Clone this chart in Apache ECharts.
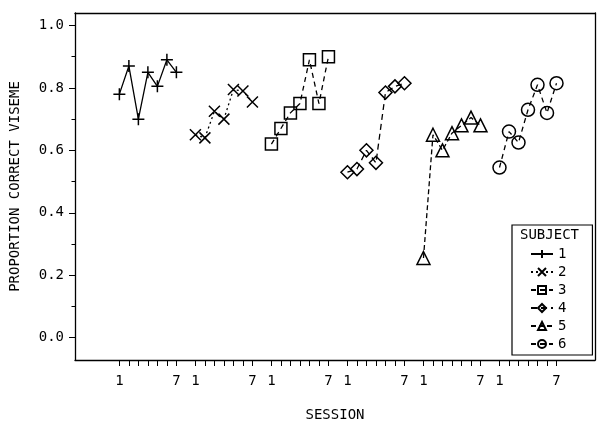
<!DOCTYPE html>
<html><head><meta charset="utf-8">
<script src="https://cdn.jsdelivr.net/npm/echarts@6/dist/echarts.min.js"></script>
<style>html,body{margin:0;padding:0;background:#fff}#c{width:604px;height:427px}</style>
</head><body><div id="c"></div>
<script>
// ---- data ----
const subjects = ['1', '2', '3', '4', '5', '6'];
const sessions = [1, 2, 3, 4, 5, 6, 7];
const labeledSessions = [1, 7];
const yTickValues = [0, 0.2, 0.4, 0.6, 0.8, 1.0];
const yMinorTickValues = [0.1, 0.3, 0.5, 0.7, 0.9];
const subject1 = [0.78, 0.87, 0.70, 0.85, 0.805, 0.89, 0.85];
const subject2 = [0.65, 0.64, 0.725, 0.70, 0.795, 0.79, 0.755];
const subject3 = [0.62, 0.67, 0.72, 0.75, 0.89, 0.75, 0.90];
const subject4 = [0.53, 0.54, 0.60, 0.56, 0.785, 0.805, 0.815];
const subject5 = [0.255, 0.65, 0.60, 0.655, 0.68, 0.705, 0.68];
const subject6 = [0.545, 0.66, 0.625, 0.73, 0.81, 0.72, 0.815];
const subjectValues = [subject1, subject2, subject3, subject4, subject5, subject6];

// ---- layout / styles ----
const GROUP_STRIDE = 8; // each subject's block of sessions on a shared axis
const pos = (g, s) => g * GROUP_STRIDE + s;
const FONT = 'DejaVu Sans Mono';
const symbols = [
  'path://M0,5L10,5M5,0L5,10',
  'path://M0,0L10,10M10,0L0,10',
  'rect', 'diamond', 'triangle', 'circle'
];
const symbolSizes = [12, 11, 12, 13, 13, 13];
const dashes = ['solid', [2, 3], [5, 4], [6, 4], [5, 3], [5, 4]];

const tickPositions = [];
const labelPositions = [];
subjects.forEach((_, g) => {
  sessions.forEach(s => tickPositions.push(pos(g, s)));
  labeledSessions.forEach(s => labelPositions.push(pos(g, s)));
});

const series = subjects.map((name, g) => ({
  name: name,
  type: 'line',
  data: sessions.map((s, i) => [pos(g, s), subjectValues[g][i]]),
  symbol: symbols[g],
  symbolSize: symbolSizes[g],
  showAllSymbol: true,
  lineStyle: { color: '#000', width: 1.3, type: dashes[g] },
  itemStyle: { color: 'rgba(0,0,0,0)', borderColor: '#000', borderWidth: 1.5 },
  emphasis: { disabled: true },
  animation: false,
  z: 3
}));

const chart = echarts.init(document.getElementById('c'), null, { renderer: 'canvas' });
chart.setOption({
  backgroundColor: '#fff',
  animation: false,
  grid: { left: 74, right: 9, top: 13, bottom: 64, show: false },
  xAxis: [{
    type: 'value', min: -3.67, max: 51.05, position: 'bottom',
    name: 'SESSION', nameLocation: 'middle', nameGap: 48,
    nameTextStyle: { fontFamily: FONT, fontSize: 14, color: '#000' },
    axisLine: { show: true, onZero: false, lineStyle: { color: '#000', width: 1.3 } },
    axisTick: { show: true, inside: false, customValues: tickPositions, length: 6, lineStyle: { color: '#000', width: 1 } },
    axisLabel: {
      customValues: labelPositions, margin: 14,
      fontFamily: FONT, fontSize: 14, color: '#000',
      formatter: v => String(((Math.round(v) - 1) % GROUP_STRIDE) + 1)
    },
    splitLine: { show: false }
  }, {
    type: 'value', min: -3.67, max: 51.05, position: 'top',
    axisLine: { show: true, onZero: false, lineStyle: { color: '#000', width: 1.3 } },
    axisTick: { show: false }, axisLabel: { show: false }, splitLine: { show: false }
  }],
  yAxis: [{
    type: 'value', min: -0.0717, max: 1.04, position: 'left',
    name: 'PROPORTION CORRECT VISEME', nameLocation: 'middle', nameGap: 53, nameRotate: 90,
    nameTextStyle: { fontFamily: FONT, fontSize: 14, color: '#000' },
    axisLine: { show: true, onZero: false, lineStyle: { color: '#000', width: 1.3 } },
    axisTick: { show: true, inside: false, customValues: yTickValues, length: 6, lineStyle: { color: '#000', width: 1 } },
    axisLabel: { customValues: yTickValues, margin: 11, fontFamily: FONT, fontSize: 14, color: '#000', formatter: v => v.toFixed(1) },
    splitLine: { show: false }
  }, {
    type: 'value', min: -0.0717, max: 1.04, position: 'left',
    axisLine: { show: false, onZero: false },
    axisTick: { show: true, inside: false, customValues: yMinorTickValues, length: 3.5, lineStyle: { color: '#000', width: 1 } },
    axisLabel: { show: false },
    splitLine: { show: false }
  }, {
    type: 'value', min: -0.0717, max: 1.04, position: 'right',
    axisLine: { show: true, onZero: false, lineStyle: { color: '#000', width: 1.3 } },
    axisTick: { show: false }, axisLabel: { show: false }, splitLine: { show: false }
  }],
  legend: {
    data: subjects,
    orient: 'vertical', left: 512, top: 225,
    padding: [22, 26, 4, 18],
    itemGap: 4, itemWidth: 22, itemHeight: 10,
    borderColor: '#000', borderWidth: 1.2, backgroundColor: '#fff',
    textStyle: { fontFamily: FONT, fontSize: 14, color: '#000' },
    selectedMode: false
  },
  graphic: [{
    type: 'text', left: 520, top: 228, z: 100,
    style: { text: 'SUBJECT', font: '14px "DejaVu Sans Mono"', fill: '#000' }
  }],
  series: series
});
</script></body></html>
